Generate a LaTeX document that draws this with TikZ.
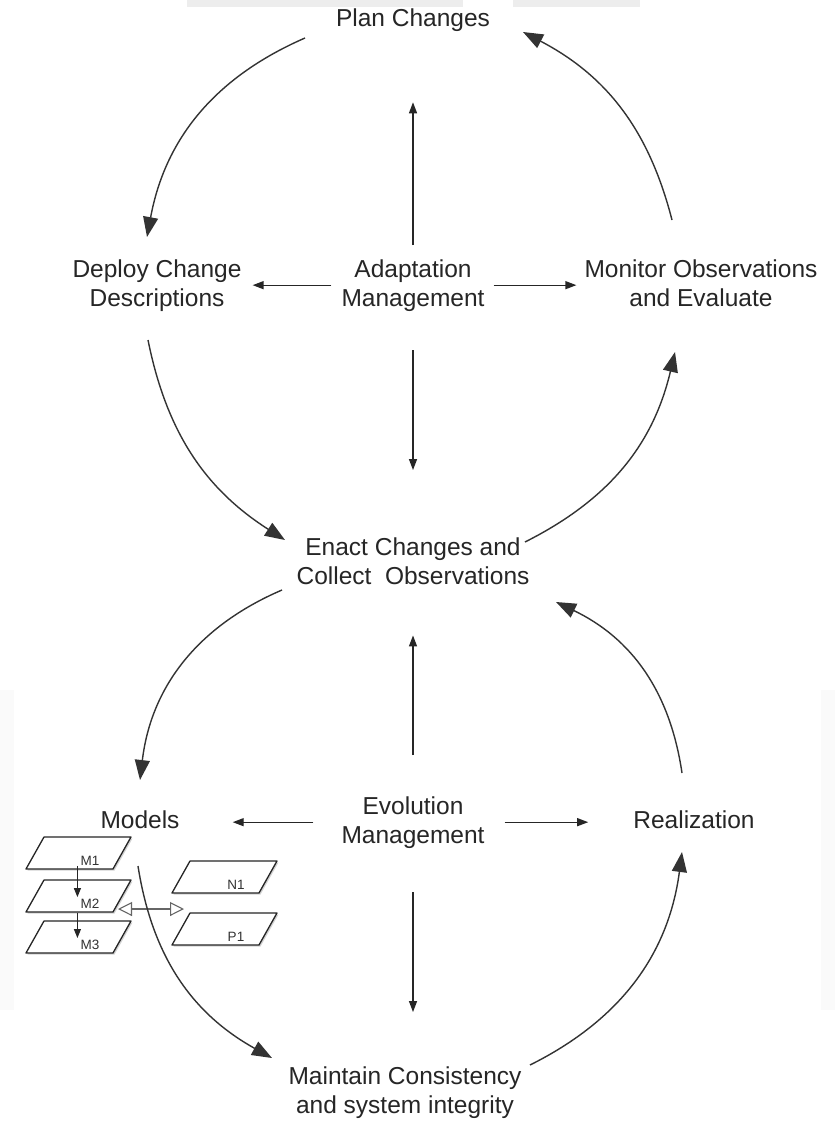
\documentclass[tikz,border=0pt]{standalone}
\usepackage{fontspec}
\setmainfont{Liberation Sans}
\usetikzlibrary{arrows.meta,shadows,calc}

% one sheet of a model stack: slanted plane with its label set low and right
\newcommand{\drawplane}[4]{%
  \draw[plane] (#2,#3) -- ++(18,-32) -- ++(87,0) -- ++(-18,32) -- cycle;
  \node[planelbl] (#1) at (#2+64,#3-8) {#4};}

\begin{document}
\begin{tikzpicture}[x=1pt,y=-1pt,
  lbl/.style={font=\fontsize{24.5}{29}\selectfont, text=black!85,
    inner sep=0pt, align=center, anchor=base},
  cyc/.style={draw=black!80, line width=1.4pt,
    -{Triangle[length=20pt,width=15pt]}},
  link/.style={draw=black!85, line width=1.3pt,
    -{Triangle[length=11pt,width=8pt]}},
  stackarrow/.style={draw=black!85, line width=1.1pt,
    -{Triangle[length=9pt,width=7pt]}},
  peer/.style={draw=black!60, line width=1.1pt,
    {Triangle[open,length=14pt,width=14pt]}-{Triangle[open,length=14pt,width=14pt]}},
  plane/.style={draw=black!85, line width=1.3pt, fill=white, line join=round,
    drop shadow={shadow xshift=1.5pt, shadow yshift=-1.5pt, opacity=0.35}},
  planelbl/.style={font=\fontsize{13.5}{15}\selectfont, text=black!80, inner sep=0pt},
]
% page
\fill[white] (0,0) rectangle (835,1124);
\useasboundingbox (0,0) rectangle (835,1124);
\fill[black!7] (187,0) rectangle (463,7);
\fill[black!7] (513,0) rectangle (640,7);
\fill[black!2] (0,690) rectangle (14,1010);
\fill[black!2] (821,690) rectangle (835,1010);

% ---------------- adaptation cycle ----------------
% (two-line labels are placed by the baseline of their last line)
\node[lbl] (plan)    at (413,27)  {Plan Changes};
\node[lbl] (deploy)  at (157,306) {Deploy Change\\Descriptions};
\node[lbl] (adapt)   at (413,306) {Adaptation\\Management};
\node[lbl] (monitor) at (701,306) {Monitor Observations\\and Evaluate};
\node[lbl] (enact)   at (413,584) {Enact Changes and\\Collect\ \ Observations};

\draw[link, shorten <=14pt, shorten >=70pt] (adapt.north) -- (adapt.north |- plan.south);
\draw[link, shorten <=10pt, shorten >=11pt] (adapt.west) -- (adapt.west -| deploy.east);
\draw[link, shorten <=9pt, shorten >=8pt] (adapt.east) -- (adapt.east -| monitor.west);
\draw[link, shorten <=39pt, shorten >=67pt] (adapt.south) -- (adapt.south |- enact.north);

\coordinate (p1) at (305,38);   \coordinate (p2) at (147,237);
\coordinate (p3) at (148,340);  \coordinate (p4) at (285,540);
\coordinate (p5) at (525,542);  \coordinate (p6) at (675,352);
\coordinate (p7) at (672,220);  \coordinate (p8) at (523,32);
\draw[cyc] (p1) to[bend right=28] (p2);
\draw[cyc] (p3) to[bend right=23] (p4);
\draw[cyc] (p5) to[bend right=25] (p6);
\draw[cyc] (p7) to[bend right=24] (p8);

% ---------------- evolution cycle ----------------
\node[lbl] (models)   at (140,828)  {Models};
\node[lbl] (evo)      at (413,843)  {Evolution\\Management};
\node[lbl] (real)     at (694,828)  {Realization};
\node[lbl] (maintain) at (405,1113) {Maintain Consistency\\and system integrity};

\draw[link, shorten <=41pt, shorten >=51pt] (evo.north) -- (evo.north |- enact.south);
\draw[link, shorten <=28pt, shorten >=53pt] (evo.west) -- (evo.west -| models.east);
\draw[link, shorten <=20pt, shorten >=45pt] (evo.east) -- (evo.east -| real.west);
\draw[link, shorten <=44pt, shorten >=54pt] (evo.south) -- (evo.south |- maintain.north);

\coordinate (q1) at (282,590);  \coordinate (q2) at (140,780);
\coordinate (q3) at (138,866);  \coordinate (q4) at (272,1058);
\coordinate (q5) at (530,1065); \coordinate (q6) at (682,852);
\coordinate (q7) at (682,773);  \coordinate (q8) at (556,602);

% model stack and its neighbours
\drawplane{m1}{26}{869}{M1}
\drawplane{m2}{26}{912}{M2}
\drawplane{m3}{26}{953}{M3}
\drawplane{n1}{172}{893}{N1}
\drawplane{pp1}{172}{945}{P1}
\draw[stackarrow] ([xshift=-3pt]m1.south west) -- ([xshift=-3pt,yshift=2pt]m2.north west);
\draw[stackarrow] ([xshift=-3pt,yshift=-4pt]m2.south west) -- ([xshift=-3pt,yshift=2pt]m3.north west);
\coordinate (m2r) at (118,909); \coordinate (np) at (184,909);
\draw[peer] (m2r) -- (np);

\draw[cyc] (q1) to[bend right=30] (q2);
\draw[cyc] (q3) to[bend right=26] (q4);
\draw[cyc] (q5) to[bend right=28] (q6);
\draw[cyc] (q7) to[bend right=28] (q8);
\end{tikzpicture}
\end{document}
